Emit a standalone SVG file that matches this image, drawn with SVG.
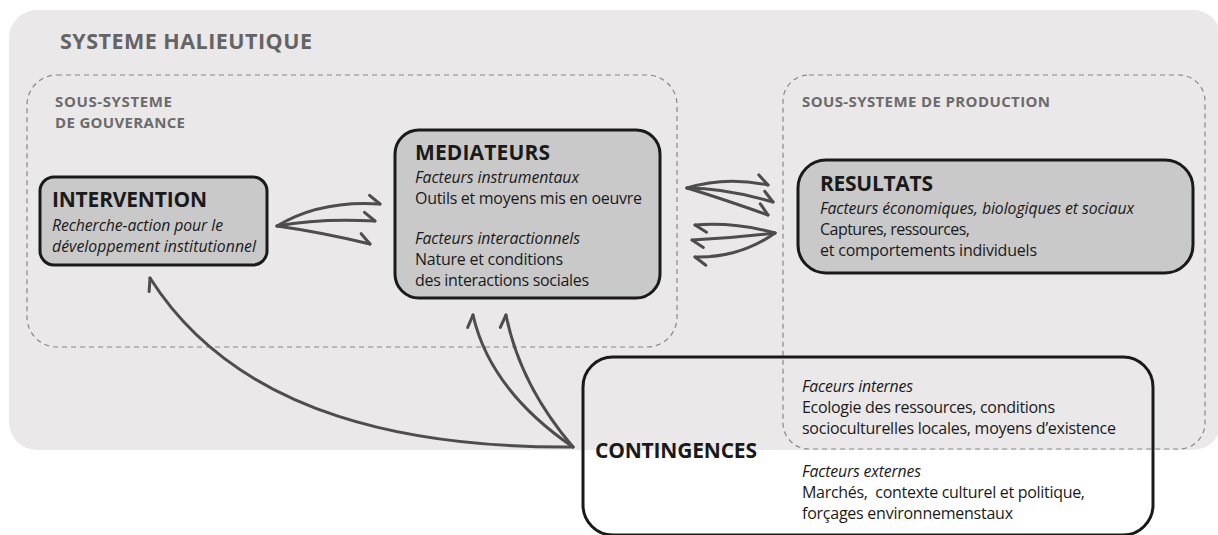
<svg xmlns="http://www.w3.org/2000/svg" width="1218" height="535" viewBox="0 0 1218 535">
<style>
text{font-family:"Open Sans","Liberation Sans",sans-serif;fill:#1a1a1a;}
.sys{font-size:21.5px;font-weight:bold;fill:#646464;}
.sub{font-size:15px;font-weight:bold;fill:#6b6b6b;}
.ttl{font-size:21px;font-weight:bold;}
.it{font-size:15.8px;font-style:italic;}
.tx{font-size:16px;}
.box{fill:#c9c9c9;stroke:#1a1a1a;stroke-width:3;}
.dash{fill:none;stroke:#888;stroke-width:1.2;stroke-dasharray:5 4;}
.arr{fill:none;stroke:#4d4d4d;stroke-width:3;stroke-linecap:round;marker-end:url(#barb);}
</style>
<defs>
<marker id="barb" markerUnits="userSpaceOnUse" markerWidth="30" markerHeight="30" refX="0" refY="0" orient="auto" overflow="visible">
<path d="M0,0 L-11,-8" fill="none" stroke="#4d4d4d" stroke-width="3" stroke-linecap="round"/>
</marker>
</defs>
<rect width="1218" height="535" fill="#ffffff"/>
<g id="systeme">
<rect x="9" y="10" width="1212" height="440" rx="28" fill="#eae8e9"/>
<text class="sys" x="60" y="49" textLength="252">SYSTEME HALIEUTIQUE</text>
</g>
<g id="gouvernance">
<rect class="dash" x="27" y="75" width="650" height="272" rx="30"/>
<text class="sub" x="55" y="107" textLength="117">SOUS-SYSTEME</text>
<text class="sub" x="55" y="128" textLength="130">DE GOUVERANCE</text>
</g>
<g id="production">
<rect class="dash" x="783" y="75" width="422" height="374" rx="26"/>
<text class="sub" x="802" y="107" textLength="248">SOUS-SYSTEME DE PRODUCTION</text>
</g>
<g id="intervention">
<rect class="box" x="40" y="177" width="227" height="88" rx="14"/>
<text class="ttl" x="52" y="207" textLength="155">INTERVENTION</text>
<text class="it" x="52" y="230.5" textLength="171">Recherche-action pour le</text>
<text class="it" x="52" y="251.5" textLength="204">développement institutionnel</text>
</g>
<g id="mediateurs">
<rect class="box" x="395" y="130" width="265" height="168" rx="24"/>
<text class="ttl" x="415" y="159.5" textLength="135">MEDIATEURS</text>
<text class="it" x="415" y="182.5" textLength="164">Facteurs instrumentaux</text>
<text class="tx" x="415" y="203.5" textLength="227">Outils et moyens mis en oeuvre</text>
<text class="it" x="415" y="244" textLength="165">Facteurs interactionnels</text>
<text class="tx" x="415" y="265" textLength="148">Nature et conditions</text>
<text class="tx" x="415" y="285.5" textLength="174">des interactions sociales</text>
</g>
<g id="resultats">
<rect class="box" x="798" y="160" width="395" height="113" rx="28"/>
<text class="ttl" x="820" y="191" textLength="113">RESULTATS</text>
<text class="it" x="820" y="214" textLength="314">Facteurs économiques, biologiques et sociaux</text>
<text class="tx" x="820" y="235" textLength="150">Captures, ressources,</text>
<text class="tx" x="820" y="255.5" textLength="217">et comportements individuels</text>
</g>
<g id="contingences">
<rect x="583" y="357" width="570" height="178" rx="30" fill="none" stroke="#1a1a1a" stroke-width="3"/>
<text class="ttl" x="595" y="458" textLength="162">CONTINGENCES</text>
<text class="it" x="802" y="392" textLength="111">Faceurs internes</text>
<text class="tx" x="802" y="413" textLength="253">Ecologie des ressources, conditions</text>
<text class="tx" x="802" y="433.5" textLength="314">socioculturelles locales, moyens d’existence</text>
<text class="it" x="802" y="477" textLength="119">Facteurs externes</text>
<text class="tx" x="802" y="498" textLength="283">Marchés,&#160; contexte culturel et politique,</text>
<text class="tx" x="802" y="518.5" textLength="211">forçages environnemenstaux</text>
</g>
<g id="connectors">
<path class="arr" d="M277,226 Q320,200 380,204"/>
<path class="arr" d="M277,226 Q320,218 375,221"/>
<path class="arr" d="M277,226 Q320,232 370,244"/>
<path class="arr" d="M687,188 Q725,176 768,185"/>
<path class="arr" d="M687,188 Q725,188 773,202"/>
<path class="arr" d="M687,188 Q720,198 768,215"/>
<path class="arr" d="M775,233 Q735,222 695,225"/>
<path class="arr" d="M775,233 Q735,238 692,240"/>
<path class="arr" d="M775,233 Q740,258 695,257"/>
<path class="arr" d="M573,447 C420,448 240,420 150,278"/>
<path class="arr" d="M573,447 Q490,390 473,315"/>
<path class="arr" d="M573,447 Q520,385 506,315"/>
</g>
</svg>
